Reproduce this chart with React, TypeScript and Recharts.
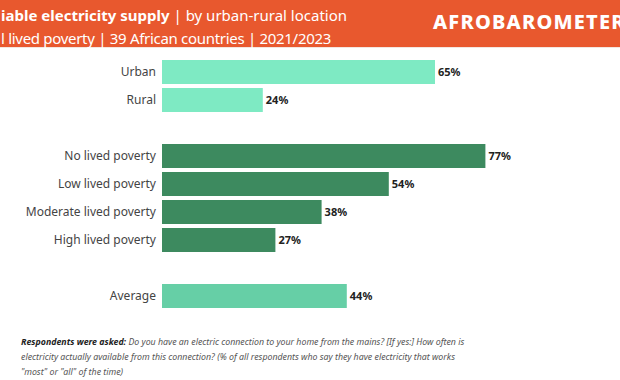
import React from "react";
import { BarChart, Bar, XAxis, YAxis, LabelList, Cell } from "recharts";

const categories = [
  "Urban",
  "Rural",
  "gap1",
  "No lived poverty",
  "Low lived poverty",
  "Moderate lived poverty",
  "High lived poverty",
  "gap2",
  "Average",
];
const values: (number | null)[] = [65, 24, null, 77, 54, 38, 27, null, 44];
const groups = ["loc", "loc", "gap", "pov", "pov", "pov", "pov", "gap", "avg"];

const colors: Record<string, string> = {
  loc: "#7EEAC3",
  pov: "#3D8A5F",
  avg: "#66CFA6",
  gap: "transparent",
};

const data = categories.map((c, i) => ({ name: c, value: values[i], group: groups[i] }));

const FONT = "'Noto Sans', 'Open Sans', sans-serif";

export default function App() {
  return (
    <div
      style={{
        position: "absolute",
        left: 0,
        top: 0,
        width: 620,
        height: 380,
        overflow: "hidden",
        background: "#ffffff",
        fontFamily: FONT,
      }}
    >
      <div
        style={{
          position: "absolute",
          left: 0,
          top: 0,
          width: 620,
          height: 47,
          background: "#E8582E",
          borderBottom: "1px solid #f3e6e0",
        }}
      />
      <div
        style={{
          position: "absolute",
          left: 1,
          top: 4,
          color: "#fff",
          fontSize: 15,
          whiteSpace: "nowrap",
          lineHeight: "23px",
        }}
      >
        <div>
          <span style={{ fontWeight: 700 }}>iable electricity supply</span>
          <span> | by urban-rural location</span>
        </div>
        <div style={{ letterSpacing: -0.3 }}>l lived poverty | 39 African countries | 2021/2023</div>
      </div>
      <div
        style={{
          position: "absolute",
          left: 433,
          top: 9,
          color: "#fff",
          fontSize: 20,
          fontWeight: 800,
          letterSpacing: 1.2,
          whiteSpace: "nowrap",
          lineHeight: "26px",
        }}
      >
        AFROBAROMETER
      </div>

      <div style={{ position: "absolute", left: 0, top: 0 }}>
        <BarChart
          width={620}
          height={380}
          data={data}
          layout="vertical"
          margin={{ top: 58, right: 38, bottom: 70, left: 0 }}
          barCategoryGap={2}
        >
          <XAxis type="number" domain={[0, 100]} hide />
          <YAxis
            type="category"
            dataKey="name"
            width={162}
            axisLine={false}
            tickLine={false}
            tickSize={6}
            tickMargin={0}
            interval={0}
            tick={{ fill: "#444", fontSize: 12, fontFamily: FONT }}
            tickFormatter={(v: string) => (v.startsWith("gap") ? "" : v)}
          />
          <Bar dataKey="value" barSize={24} isAnimationActive={false}>
            {data.map((d, i) => (
              <Cell key={i} fill={colors[d.group]} />
            ))}
            <LabelList
              dataKey="value"
              position="right"
              offset={3}
              formatter={(v: any) => (v == null ? "" : `${v}%`)}
              style={{ fill: "#222", fontSize: 11, fontWeight: 700, fontFamily: FONT }}
            />
          </Bar>
        </BarChart>
      </div>

      <div
        style={{
          position: "absolute",
          left: 21,
          top: 335,
          fontSize: 8.8,
          fontStyle: "italic",
          color: "#555",
          lineHeight: "15px",
          whiteSpace: "nowrap",
        }}
      >
        <div>
          <span style={{ fontWeight: 700, color: "#222" }}>Respondents were asked:</span> Do you have an
          electric connection to your home from the mains? [If yes:] How often is
        </div>
        <div>
          electricity actually available from this connection? (% of all respondents who say they have
          electricity that works
        </div>
        <div>"most" or "all" of the time)</div>
      </div>
    </div>
  );
}
